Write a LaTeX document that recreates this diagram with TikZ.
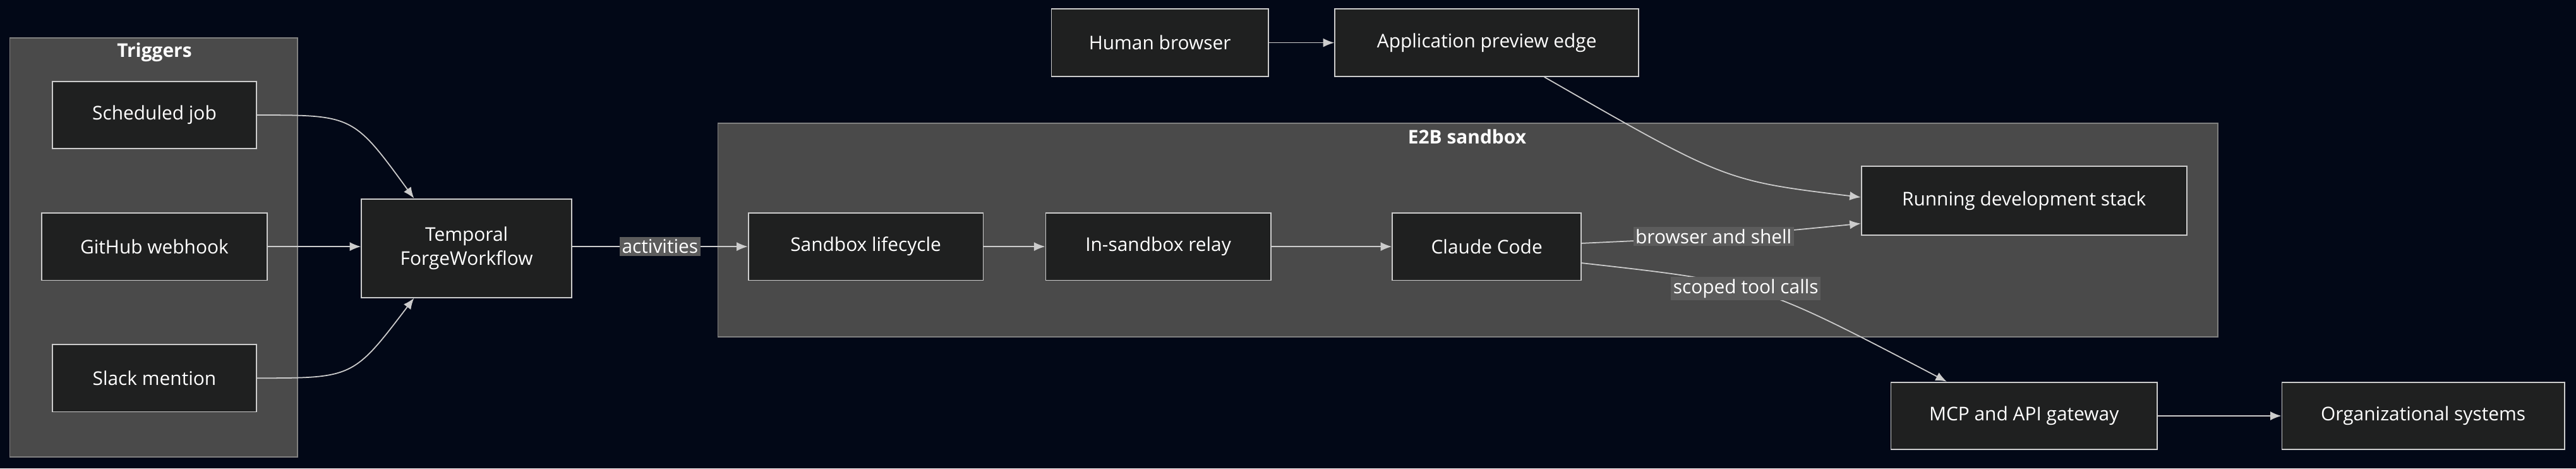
\documentclass[tikz,border=0pt]{standalone}
\usepackage{fontspec}
\setmainfont{Open Sans}
\usetikzlibrary{positioning,arrows.meta,calc}
\definecolor{bgnavy}{HTML}{020817}
\definecolor{boxfill}{HTML}{1F2020}
\definecolor{clusterfill}{HTML}{4A4A4A}
\definecolor{linegray}{HTML}{CCCCCC}
\definecolor{labelfill}{HTML}{5C5C5C}
\tikzset{
    box/.style = {
        draw=linegray,
        fill=boxfill,
        shape=rectangle,
        text=white,
        font=\fontsize{8.5}{11}\selectfont,
        align=center,
        line width=0.5pt
    },
    cluster/.style = {
        draw=gray,
        fill=clusterfill,
        line width=0.5pt
    },
    title/.style = {
        text=white,
        font=\fontsize{8.5}{11}\selectfont\bfseries
    },
    edgelabel/.style = {
        fill=labelfill,
        text=white,
        inner sep=1pt,
        font=\fontsize{8.5}{11}\selectfont
    },
    link/.style = {
        draw=linegray,
        line width=0.5pt,
        -{Latex[length=5pt,width=4pt]}
    }
}

\begin{document}
\begin{tikzpicture}[x=0.026cm,y=-0.026cm]
            \fill[bgnavy] (0,0) rectangle (1568,285);
            \useasboundingbox (0,0) rectangle (1568,285);

            \draw[cluster] (6,23) rectangle (181,278);
            \node[title] (trigtitle) at (94,32) {Triggers};
            \draw[cluster] (437,75) rectangle (1350,205);
            \node[title] (e2btitle) at (893,83) {E2B sandbox};

            \node[box, minimum width=124*0.026cm, minimum height=41*0.026cm] (sched) at (94,70) {Scheduled job};
            \node[box, minimum width=137*0.026cm, minimum height=41*0.026cm] (github) at (94,150) {GitHub webhook};
            \node[box, minimum width=124*0.026cm, minimum height=41*0.026cm] (slack) at (94,230) {Slack mention};
            \node[box, minimum width=128*0.026cm, minimum height=60*0.026cm] (forge) at (284,151) {Temporal\\ForgeWorkflow};
            \node[box, minimum width=143*0.026cm, minimum height=41*0.026cm] (lifecycle) at (527,150) {Sandbox lifecycle};
            \node[box, minimum width=137*0.026cm, minimum height=41*0.026cm] (relay) at (705,150) {In-sandbox relay};
            \node[box, minimum width=115*0.026cm, minimum height=41*0.026cm] (claude) at (905,150) {Claude Code};
            \node[box, minimum width=198*0.026cm, minimum height=42*0.026cm] (devstack) at (1232,122) {Running development stack};
            \node[box, minimum width=132*0.026cm, minimum height=41*0.026cm] (browser) at (706,26) {Human browser};
            \node[box, minimum width=185*0.026cm, minimum height=41*0.026cm] (preview) at (905,26) {Application preview edge};
            \node[box, minimum width=162*0.026cm, minimum height=41*0.026cm] (gateway) at (1232,253) {MCP and API gateway};
            \node[box, minimum width=172*0.026cm, minimum height=41*0.026cm] (orgsys) at (1475,253) {Organizational systems};

            \draw[link] (sched.east) .. controls (215,70) .. ($(forge.north)+(-32,0)$);
            \draw[link] (github.east) -- (forge.west |- github.east);
            \draw[link] (slack.east) .. controls (215,230) .. ($(forge.south)+(-32,0)$);

            \draw[link] (forge.east |- lifecycle.west) -- (lifecycle.west) node [midway, edgelabel] {activities};
            \draw[link] (lifecycle.east) -- (relay.west);
            \draw[link] (relay.east) -- (claude.west);

            \draw[link] ($(claude.east)+(0,-2)$) .. controls (1050,144) .. ($(devstack.west)+(0,14)$) node [pos=0.45, edgelabel] {browser and shell};
            \draw[link] ($(claude.east)+(0,10)$) .. controls (1070,172) .. ($(gateway.north)+(-47,0)$) node [pos=0.45, edgelabel] {scoped tool calls};

            \draw[link] (browser.east) -- (preview.west);
            \draw[link] ($(preview.south)+(35,0)$) .. controls (1050,110) .. ($(devstack.west)+(0,-2)$);
            \draw[link] (gateway.east) -- (orgsys.west);

        \end{tikzpicture}
\end{document}
